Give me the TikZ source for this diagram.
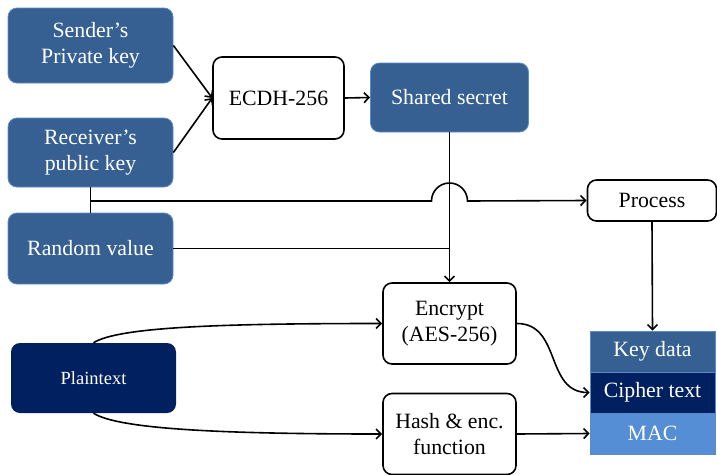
\documentclass[tikz,border=0pt]{standalone}
\usepackage{fontspec}
\setmainfont{Liberation Serif}
\usetikzlibrary{arrows.meta}
\definecolor{bluebox}{HTML}{376092}
\definecolor{blueedge}{HTML}{5B8BC9}
\definecolor{navy}{HTML}{002060}
\definecolor{macblue}{HTML}{558ED5}
\tikzset{
  bluenode/.style={draw=blueedge, line width=0.8pt, fill=bluebox, rounded corners=9pt, text=white, align=center, inner sep=0pt},
  whitenode/.style={draw=black, line width=1.6pt, fill=white, rounded corners=9pt, align=center, inner sep=0pt},
  navynode/.style={draw=none, fill=navy, rounded corners=9pt, text=white, align=center, inner sep=0pt},
  cell/.style={draw=blueedge, line width=0.6pt, text=white, minimum width=125pt, minimum height=41pt, inner sep=0pt},
  conn/.style={line width=1.6pt, draw=black},
  arr/.style={conn, -{Straight Barb[length=5pt,width=10pt]}},
}
\begin{document}
\begin{tikzpicture}[x=1pt,y=-1pt, font=\fontsize{21.8}{26}\selectfont]
\useasboundingbox (0,0) rectangle (717,474);
\clip (0,0) rectangle (717,474);
\node[bluenode, minimum width=165pt, minimum height=75pt] (snd) at (90.5,45.5) {Sender’s\\Private key};
\node[bluenode, minimum width=165pt, minimum height=69pt] (rcv) at (90.5,152.5) {Receiver’s\\public key};
\node[bluenode, minimum width=165pt, minimum height=71pt] (rnd) at (90.5,248.5) {Random value};
\node[navynode, minimum width=165pt, minimum height=70pt, font=\fontsize{18.5}{22}\selectfont] (pt) at (93.5,378) {Plaintext};
\node[whitenode, minimum width=131pt, minimum height=82pt] (ecdh) at (278.5,98) {ECDH-256};
\node[bluenode, minimum width=158pt, minimum height=69pt] (ss) at (449.5,97.5) {Shared secret};
\node[whitenode, minimum width=129pt, minimum height=41pt] (proc) at (652,200.5) {Process};
\node[whitenode, minimum width=133pt, minimum height=81pt] (enc) at (449.5,323.5) {Encrypt\\(AES-256)};
\node[whitenode, minimum width=133pt, minimum height=81pt] (hash) at (449.5,434) {Hash \& enc.\\function};
\node[cell, fill=bluebox] (kd) at (652.5,351.5) {Key data};
\node[cell, fill=navy] (ct) at (652.5,392.5) {Cipher text};
\node[cell, fill=macblue] (mac) at (652.5,433.5) {MAC};

\draw[arr] (snd.east) -- (ecdh.west);
\draw[arr] (rcv.east) -- (ecdh.west);
\draw[arr] (ecdh.east) -- (ss.west);
\draw[arr] (ss.south) -- (enc.north);
\coordinate (jr) at (449.5,248.5);
\draw[conn] (rnd.east) -- (jr);
\draw[conn] (rcv.south) -- (rnd.north);
\coordinate (jb) at (90.5,201);
\coordinate (hopa) at (431.5,201);
\coordinate (hopb) at (467.5,201);
\draw[arr] (jb) -- (hopa) arc[start angle=180, end angle=360, radius=18] -- (hopb) -- (proc.west);
\draw[arr] (proc.south) -- (kd.north);
\draw[arr] (pt.north) .. controls +(25,-16) and +(-160,0) .. (enc.west);
\draw[arr] (pt.south) .. controls +(25,16) and +(-160,0) .. (hash.west);
\draw[arr] (enc.east) .. controls +(45,0) and +(-45,0) .. (ct.west);
\draw[arr] (hash.east) -- (mac.west);
\end{tikzpicture}
\end{document}
